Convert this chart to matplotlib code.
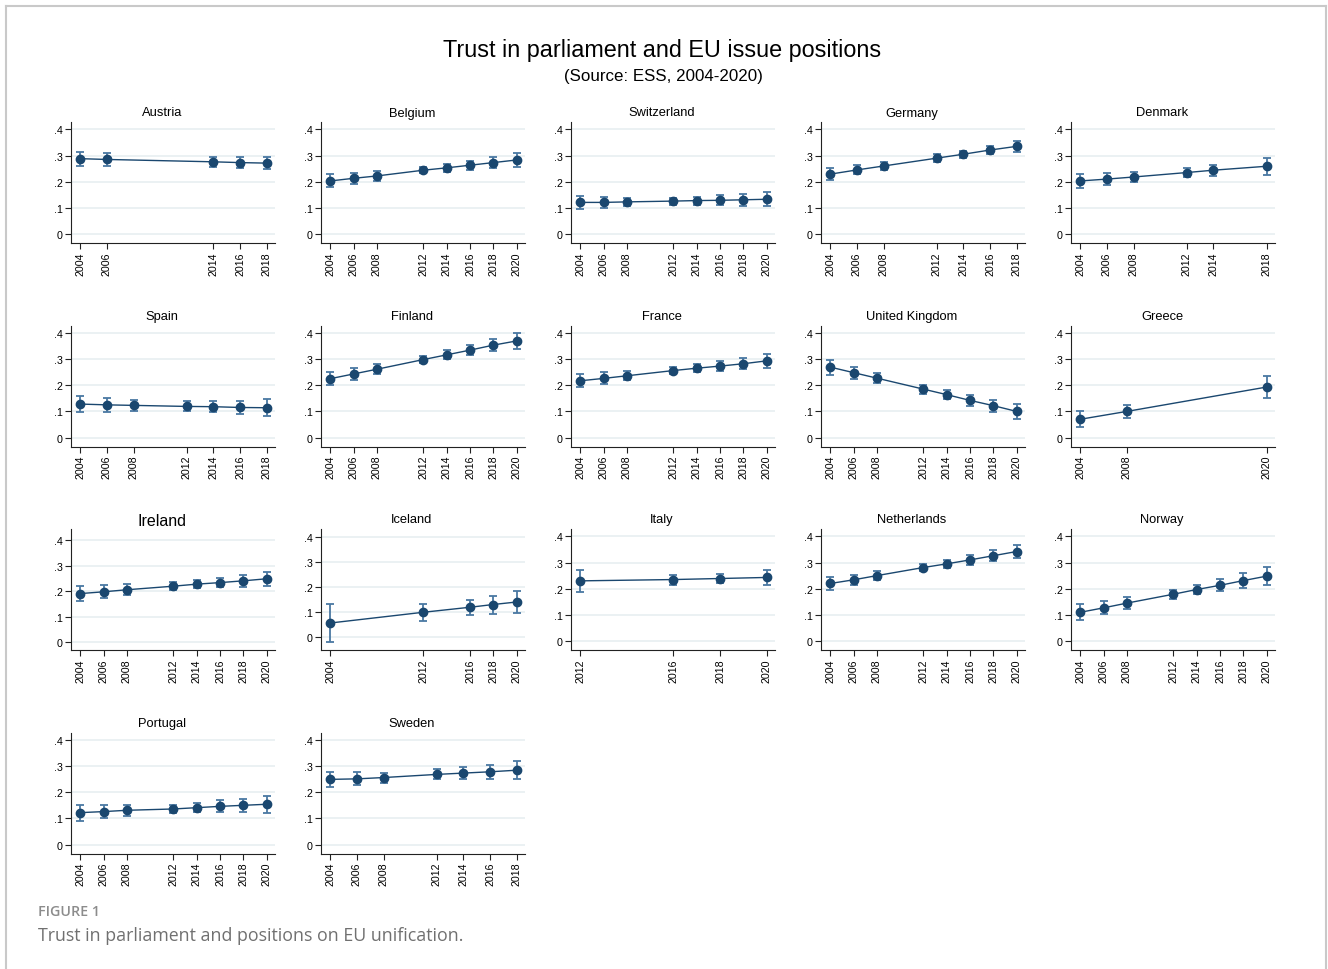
import matplotlib
matplotlib.use("Agg")
import matplotlib.pyplot as plt
from matplotlib.lines import Line2D

plt.rcParams['font.family'] = ['Liberation Sans', 'DejaVu Sans']

countries = ["Austria", "Belgium", "Switzerland", "Germany", "Denmark",
             "Spain", "Finland", "France", "United Kingdom", "Greece",
             "Ireland", "Iceland", "Italy", "Netherlands", "Norway",
             "Portugal", "Sweden"]

years = {
    "Austria": [2004, 2006, 2014, 2016, 2018],
    "Belgium": [2004, 2006, 2008, 2012, 2014, 2016, 2018, 2020],
    "Switzerland": [2004, 2006, 2008, 2012, 2014, 2016, 2018, 2020],
    "Germany": [2004, 2006, 2008, 2012, 2014, 2016, 2018],
    "Denmark": [2004, 2006, 2008, 2012, 2014, 2018],
    "Spain": [2004, 2006, 2008, 2012, 2014, 2016, 2018],
    "Finland": [2004, 2006, 2008, 2012, 2014, 2016, 2018, 2020],
    "France": [2004, 2006, 2008, 2012, 2014, 2016, 2018, 2020],
    "United Kingdom": [2004, 2006, 2008, 2012, 2014, 2016, 2018, 2020],
    "Greece": [2004, 2008, 2020],
    "Ireland": [2004, 2006, 2008, 2012, 2014, 2016, 2018, 2020],
    "Iceland": [2004, 2012, 2016, 2018, 2020],
    "Italy": [2012, 2016, 2018, 2020],
    "Netherlands": [2004, 2006, 2008, 2012, 2014, 2016, 2018, 2020],
    "Norway": [2004, 2006, 2008, 2012, 2014, 2016, 2018, 2020],
    "Portugal": [2004, 2006, 2008, 2012, 2014, 2016, 2018, 2020],
    "Sweden": [2004, 2006, 2008, 2012, 2014, 2016, 2018],
}

values = {
    "Austria": [0.288, 0.285, 0.276, 0.273, 0.271],
    "Belgium": [0.203, 0.213, 0.222, 0.244, 0.253, 0.263, 0.273, 0.283],
    "Switzerland": [0.121, 0.121, 0.123, 0.126, 0.128, 0.129, 0.131, 0.133],
    "Germany": [0.229, 0.245, 0.260, 0.290, 0.305, 0.321, 0.335],
    "Denmark": [0.203, 0.210, 0.218, 0.235, 0.244, 0.259],
    "Spain": [0.128, 0.125, 0.123, 0.119, 0.118, 0.115, 0.114],
    "Finland": [0.225, 0.243, 0.261, 0.298, 0.316, 0.334, 0.353, 0.369],
    "France": [0.217, 0.226, 0.236, 0.256, 0.265, 0.273, 0.282, 0.293],
    "United Kingdom": [0.269, 0.248, 0.227, 0.185, 0.164, 0.142, 0.122, 0.100],
    "Greece": [0.070, 0.100, 0.193],
    "Ireland": [0.190, 0.197, 0.205, 0.219, 0.227, 0.233, 0.240, 0.248],
    "Iceland": [0.056, 0.099, 0.119, 0.130, 0.140],
    "Italy": [0.230, 0.235, 0.239, 0.243],
    "Netherlands": [0.220, 0.234, 0.250, 0.281, 0.295, 0.310, 0.326, 0.342],
    "Norway": [0.110, 0.127, 0.145, 0.179, 0.197, 0.213, 0.231, 0.248],
    "Portugal": [0.122, 0.126, 0.131, 0.136, 0.141, 0.146, 0.150, 0.154],
    "Sweden": [0.249, 0.251, 0.256, 0.268, 0.273, 0.278, 0.284],
}

ci = {
    "Austria": [0.027, 0.024, 0.018, 0.020, 0.023],
    "Belgium": [0.025, 0.021, 0.019, 0.012, 0.016, 0.018, 0.022, 0.027],
    "Switzerland": [0.024, 0.020, 0.016, 0.013, 0.015, 0.019, 0.023, 0.026],
    "Germany": [0.022, 0.017, 0.014, 0.014, 0.013, 0.016, 0.020],
    "Denmark": [0.028, 0.023, 0.019, 0.018, 0.021, 0.033],
    "Spain": [0.032, 0.027, 0.021, 0.019, 0.021, 0.026, 0.032],
    "Finland": [0.026, 0.023, 0.020, 0.015, 0.017, 0.019, 0.024, 0.029],
    "France": [0.025, 0.023, 0.017, 0.014, 0.015, 0.018, 0.021, 0.026],
    "United Kingdom": [0.029, 0.023, 0.020, 0.017, 0.018, 0.020, 0.023, 0.029],
    "Greece": [0.031, 0.024, 0.042],
    "Ireland": [0.030, 0.025, 0.021, 0.016, 0.016, 0.019, 0.023, 0.027],
    "Iceland": [0.075, 0.035, 0.031, 0.036, 0.044],
    "Italy": [0.042, 0.019, 0.017, 0.027],
    "Netherlands": [0.025, 0.020, 0.017, 0.013, 0.015, 0.018, 0.022, 0.026],
    "Norway": [0.030, 0.025, 0.022, 0.018, 0.019, 0.023, 0.028, 0.034],
    "Portugal": [0.031, 0.026, 0.020, 0.017, 0.018, 0.023, 0.026, 0.033],
    "Sweden": [0.030, 0.025, 0.019, 0.019, 0.022, 0.027, 0.034],
}

yticks = [0, 0.1, 0.2, 0.3, 0.4]
ytick_labels = ["0", ".1", ".2", ".3", ".4"]

title = "Trust in parliament and EU issue positions"
subtitle = "(Source: ESS, 2004-2020)"
fig_label = "FIGURE 1"
caption = "Trust in parliament and positions on EU unification."

W, H = 1328, 970
fig = plt.figure(figsize=(W / 100, H / 100), dpi=100)
fig.patch.set_facecolor("white")

# page frame
frame_c = "#c9c9c9"
fig.add_artist(Line2D([5.5 / W, 5.5 / W], [0, 1 - 7 / H], transform=fig.transFigure, color=frame_c, lw=1.5))
fig.add_artist(Line2D([5.5 / W, 1326 / W], [1 - 7 / H, 1 - 7 / H], transform=fig.transFigure, color=frame_c, lw=1.5))
fig.add_artist(Line2D([1326 / W, 1326 / W], [0, 1 - 7 / H], transform=fig.transFigure, color=frame_c, lw=1.5))

fig.text(662 / W, 1 - 50 / H, title, ha="center", va="center", fontsize=16.8, color="black")
fig.text(663 / W, 1 - 77 / H, subtitle, ha="center", va="center", fontsize=12.2, color="black")

navy = "#1a476f"
ecol = "#4a78a3"
grid_c = "#e6edf0"

for i, c in enumerate(countries):
    row, col = divmod(i, 5)
    left = 71 + 250 * col
    top = 123 + 203.5 * row
    w, h = 204, 121
    ax = fig.add_axes([left / W, 1 - (top + h) / H, w / W, h / H])
    x = years[c]
    y = values[c]
    e = ci[c]
    ax.errorbar(x, y, yerr=e, fmt="none", ecolor=ecol, elinewidth=1.3, capsize=3, capthick=1.3, zorder=2)
    ax.plot(x, y, color=navy, lw=1.0, zorder=3)
    ax.plot(x, y, "o", color=navy, ms=6, zorder=4)
    rng = max(x) - min(x)
    ax.set_xlim(min(x) - 0.05 * rng, max(x) + 0.045 * rng)
    if c == "Iceland":
        ax.set_ylim(-0.052, 0.432)
    elif c == "Ireland":
        ax.set_ylim(-0.031, 0.443)
    else:
        ax.set_ylim(-0.034, 0.428)
    for yt in yticks:
        ax.axhline(yt, color=grid_c, lw=1.1, zorder=0)
    ax.set_yticks(yticks)
    ax.set_yticklabels(ytick_labels)
    ax.set_xticks(x)
    ax.set_xticklabels([str(v) for v in x], rotation=90)
    ax.tick_params(axis="both", labelsize=7.7, length=4, width=0.8, color="#222222", pad=2)
    for s in ["top", "right"]:
        ax.spines[s].set_visible(False)
    for s in ["left", "bottom"]:
        ax.spines[s].set_linewidth(0.8)
        ax.spines[s].set_color("#222222")
    tsize = 11.5 if c == "Ireland" else 9.3
    tx = 91 / w
    ty = 1 + (4 if c == "Ireland" else 6.5) / h
    ax.text(tx, ty, c, transform=ax.transAxes, ha="center", va="baseline",
            fontsize=tsize, color="black")

fig.text(38 / W, 1 - 912 / H, fig_label, ha="left", va="center", fontsize=10.3,
         color="#8c8c8c", family=["Open Sans", "DejaVu Sans"], fontweight="semibold")
fig.text(38 / W, 1 - 936 / H, caption, ha="left", va="center", fontsize=12.8,
         color="#707070", family=["Open Sans", "DejaVu Sans"])

fig.savefig("out.png", dpi=100, facecolor="white")
